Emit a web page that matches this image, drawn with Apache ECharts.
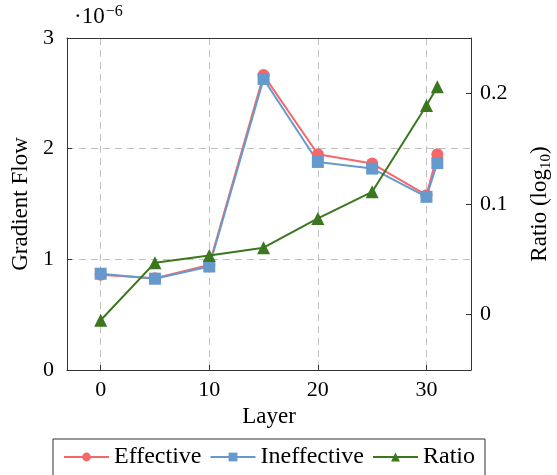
<!DOCTYPE html>
<html>
<head>
<meta charset="utf-8">
<script src="https://cdn.jsdelivr.net/npm/echarts@6/dist/echarts.min.js"></script>
<style>
html,body{margin:0;padding:0;background:#fff}
#main{width:557px;height:475px}
</style>
</head>
<body>
<div id="main"></div>
<script>
// 数据（梯度单位为 1e-6）
var layers = [0, 5, 10, 15, 20, 25, 30, 31];
var effective = [0.86, 0.83, 0.95, 2.665, 1.95, 1.865, 1.58, 1.95];
var ineffective = [0.87, 0.825, 0.935, 2.63, 1.88, 1.82, 1.565, 1.87];
var ratio = [-0.005, 0.047, 0.0535, 0.0605, 0.087, 0.111, 0.189, 0.206];

function pairs(xs, ys){
    return xs.map(function(x, i){ return [x, ys[i]]; });
}

var font = "Liberation Serif";
var red = "#f6676a", blue = "#6699cc", green = "#3a771e";
var axisCol = "#333";
var dash = {type: [7, 5], color: "#c0c0c0", width: 1};

var chart = echarts.init(document.getElementById("main"));
var option = {
    animation: false,
    textStyle: {fontFamily: font},
    grid: {left: 67, right: 86, top: 38, bottom: 105, containLabel: false, outerBoundsMode: "none"},
    xAxis: [{
        type: "value", min: -3.1, max: 34.1, position: "bottom",
        name: "Layer", nameLocation: "middle", nameGap: 35,
        nameTextStyle: {fontFamily: font, fontSize: 23, color: "#000"},
        axisLine: {onZero: false, lineStyle: {color: axisCol, width: 1}},
        axisTick: {inside: true, length: 5, lineStyle: {color: axisCol}},
        axisLabel: {
            margin: 9, fontFamily: font, fontSize: 22, color: "#000",
            formatter: function(v){ return Math.abs(v % 10) < 1e-6 ? String(v) : ""; }
        },
        splitLine: {show: true, lineStyle: dash}
    }, {
        type: "value", min: -3.1, max: 34.1, position: "top",
        axisLine: {onZero: false, lineStyle: {color: axisCol, width: 1}},
        axisTick: {show: false}, axisLabel: {show: false}, splitLine: {show: false}
    }],
    yAxis: [{
        type: "value", min: 0, max: 3, interval: 1, position: "left",
        name: "Gradient Flow", nameLocation: "middle", nameGap: 33,
        nameTextStyle: {fontFamily: font, fontSize: 23, color: "#000"},
        axisLine: {show: true, onZero: false, lineStyle: {color: axisCol, width: 1}},
        axisTick: {show: true, inside: true, length: 5, lineStyle: {color: axisCol}},
        axisLabel: {margin: 13, fontFamily: font, fontSize: 22, color: "#000"},
        splitLine: {show: true, lineStyle: dash}
    }, {
        type: "value", min: -0.05, max: 0.25, splitNumber: 3, position: "right",
        name: "Ratio (log{sub|10})", nameLocation: "middle", nameGap: 55, nameRotate: 90,
        nameTextStyle: {
            fontFamily: font, fontSize: 23, color: "#000",
            rich: {sub: {fontFamily: font, fontSize: 15, color: "#000", verticalAlign: "bottom", padding: [13, 0, 0, 0]}}
        },
        axisLine: {show: true, onZero: false, lineStyle: {color: axisCol, width: 1}},
        axisTick: {show: true, inside: true, length: 5, lineStyle: {color: axisCol}},
        axisLabel: {
            margin: 9, fontFamily: font, fontSize: 22, color: "#000",
            formatter: function(v){
                var r = Math.round(v * 10) / 10;
                if (Math.abs(v - r) > 1e-6) return "";
                return r === 0 ? "0" : r.toFixed(1);
            }
        },
        splitLine: {show: false}
    }],
    legend: {
        top: 439, left: 53,
        padding: [6, 10, 12, 10],
        borderColor: "#333", borderWidth: 1,
        itemWidth: 45, itemHeight: 11, itemGap: 8,
        textStyle: {fontFamily: font, fontSize: 24, color: "#000"},
        data: ["Effective", "Ineffective", "Ratio"]
    },
    graphic: [{
        type: "text", left: 74, top: 4,
        style: {
            text: "·10{sup|−6}",
            fontFamily: font, fontSize: 23, fill: "#000",
            rich: {sup: {fontFamily: font, fontSize: 16, fill: "#000", verticalAlign: "top", padding: [0, 0, 10, 1]}}
        }
    }],
    series: [{
        name: "Effective", type: "line", xAxisIndex: 0, yAxisIndex: 0,
        data: pairs(layers, effective),
        symbol: "circle", symbolSize: 12,
        lineStyle: {color: red, width: 2},
        itemStyle: {color: red}
    }, {
        name: "Ineffective", type: "line", xAxisIndex: 0, yAxisIndex: 0,
        data: pairs(layers, ineffective),
        symbol: "rect", symbolSize: 12,
        lineStyle: {color: blue, width: 2},
        itemStyle: {color: blue}
    }, {
        name: "Ratio", type: "line", xAxisIndex: 0, yAxisIndex: 1,
        data: pairs(layers, ratio),
        symbol: "triangle", symbolSize: 13,
        lineStyle: {color: green, width: 2},
        itemStyle: {color: green}
    }]
};
chart.setOption(option);
</script>
</body>
</html>
